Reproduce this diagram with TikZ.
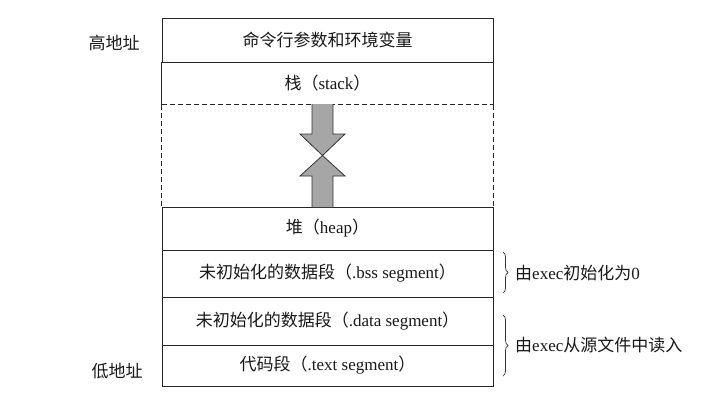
\documentclass[tikz,border=0pt]{standalone}
\usepackage{fontspec}
\setmainfont{Liberation Serif}
\newfontfamily\cjk{Noto Sans CJK SC}
\usetikzlibrary{decorations.pathreplacing}
\newcommand\zh[1]{{\cjk #1}}
\begin{document}
\begin{tikzpicture}[x=1pt,y=-1pt,
  ink/.style={draw=black!85, line width=1pt},
  txt/.style={text=black!90, font=\fontsize{17}{20}\selectfont},
  seg/.style={ink, txt, rectangle, minimum width=331pt, inner sep=0pt},
  growth/.style={draw=black!80, line width=0.8pt, fill=black!35, line join=miter},
  gapline/.style={ink, dash pattern=on 5pt off 3pt},
  bracket/.style={draw=black!80, line width=0.7pt, decorate,
    decoration={brace, amplitude=5pt}},
]
\fill[white] (0,0) rectangle (712,402);
\useasboundingbox (0,0) rectangle (712,402);

% memory segments, high address at the top
\node[seg, minimum height=44pt] (args)  at (327.5,40)    {\zh{命令行参数和环境变量}};
\node[seg, draw=none, minimum height=42pt] (stack) at (327.5,83) {\zh{栈（}stack\zh{）}};
\node[seg, minimum height=43pt] (heap)  at (327.5,228.5) {\zh{堆（}heap\zh{）}};
\node[seg, minimum height=47pt] (bss)   at (327.5,273.5) {\zh{未初始化的数据段（}.bss segment\zh{）}};
\node[seg, minimum height=48pt] (data)  at (327.5,321)   {\zh{未初始化的数据段（}.data segment\zh{）}};
\node[seg, minimum height=41pt] (code)  at (327.5,365.5) {\zh{代码段（}.text segment\zh{）}};

% stack: solid sides, dashed lower limit
\draw[ink] (stack.north west) -- (stack.south west);
\draw[ink] (stack.north east) -- (stack.south east);
\draw[gapline] (stack.south west) -- (stack.south east);
% free space between stack and heap
\draw[gapline] (stack.south west) -- (heap.north west);
\draw[gapline] (stack.south east) -- (heap.north east);

% stack grows down, heap grows up
\filldraw[growth] (312,104) -- (312,134) -- (300,134) -- (322.5,155.5)
  -- (345,134) -- (333,134) -- (333,104);
\filldraw[growth] (312,207) -- (312,176) -- (300,176) -- (322.5,155.5)
  -- (345,176) -- (333,176) -- (333,207);

% address labels
\node[txt] (hi) at (114,43)  {\zh{高地址}};
\node[txt] (lo) at (117,371) {\zh{低地址}};

% notes on how the segments are set up
\coordinate (b1t) at (503,252);
\coordinate (b1b) at (503,293);
\coordinate (b2t) at (503,315);
\coordinate (b2b) at (503,376);
\draw[bracket] (b1t) -- (b1b);
\draw[bracket] (b2t) -- (b2b);
\node[txt, anchor=west, inner sep=0pt] (n1) at (515,273) {\zh{由}exec\zh{初始化为}0};
\node[txt, anchor=west, inner sep=0pt] (n2) at (515,345) {\zh{由}exec\zh{从源文件中读入}};
\end{tikzpicture}
\end{document}
